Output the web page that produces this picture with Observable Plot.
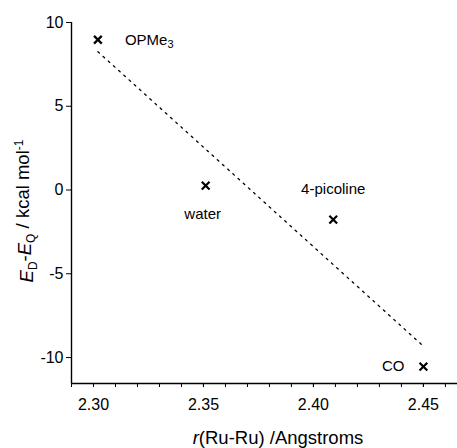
<!DOCTYPE html>
<html>
<head>
<meta charset="utf-8">
<script src="https://cdn.jsdelivr.net/npm/d3@7"></script>
<script src="https://cdn.jsdelivr.net/npm/@observablehq/plot@0.6"></script>
<style>
  html, body { margin: 0; padding: 0; background: #fff; }
  svg text { font-family: "Liberation Sans", Arial, sans-serif; }
</style>
</head>
<body>
<div id="chart"></div>
<script>
// Data
const ligands = ["OPMe3", "water", "4-picoline", "CO"];
const rRuRu = [2.302, 2.351, 2.409, 2.450];
const deltaE = [8.97, 0.26, -1.77, -10.54];

const xTicks = [2.30, 2.35, 2.40, 2.45];
const xMinorTicks = [2.29, 2.30, 2.31, 2.32, 2.33, 2.34, 2.35, 2.36, 2.37, 2.38, 2.39, 2.40, 2.41, 2.42, 2.43, 2.44, 2.45, 2.46];
const yTicks = [-10, -5, 0, 5, 10];
const xDomain = [2.29, 2.4655];
const yDomain = [-11.55, 10];

const data = ligands.map((name, i) => ({name, r: rRuRu[i], e: deltaE[i]}));
const pick = n => data.filter(d => d.name === n);

const textStyle = {x: "r", y: "e", text: "name", fontSize: 15, fill: "black"};

const chart = Plot.plot({
  width: 457,
  height: 448,
  marginLeft: 71,
  marginRight: 0,
  marginTop: 22,
  marginBottom: 65,
  style: {fontFamily: "Liberation Sans, Arial, sans-serif", fontSize: "16px", background: "white", color: "black"},
  x: {domain: xDomain, label: null},
  y: {domain: yDomain, label: null},
  marks: [
    Plot.ruleX([xDomain[0]], {stroke: "black", strokeWidth: 1.4}),
    Plot.ruleY([yDomain[0]], {stroke: "black", strokeWidth: 1.4}),
    Plot.axisY({ticks: yTicks, tickSize: 5, tickPadding: 3, label: null, fontSize: 16, tickFormat: d => String(d)}),
    Plot.axisX({ticks: xMinorTicks, tickSize: 4, label: null, tickFormat: () => ""}),
    Plot.axisX({ticks: xTicks, tickSize: 4, tickPadding: 11, label: null, fontSize: 16, tickFormat: d3.format(".2f")}),
    Plot.linearRegressionY(data, {x: "r", y: "e", ci: 0, stroke: "black", strokeWidth: 1.3, strokeDasharray: "2,5"}),
    Plot.dot(data, {x: "r", y: "e", symbol: "times", r: 3.6, stroke: "black", strokeWidth: 2.2}),
    Plot.text(pick("OPMe3"), {...textStyle, dx: 27, textAnchor: "start"}),
    Plot.text(pick("water"), {...textStyle, dx: -3, dy: 29}),
    Plot.text(pick("4-picoline"), {...textStyle, dy: -30}),
    Plot.text(pick("CO"), {...textStyle, dx: -19, textAnchor: "end"})
  ]
});

document.getElementById("chart").appendChild(chart);

const svg = d3.select(chart);

// Subscript in OPMe3
svg.selectAll("text").filter(function() { return this.textContent === "OPMe3"; })
  .each(function() {
    const t = d3.select(this);
    t.text(null);
    t.append("tspan").text("OPMe");
    t.append("tspan").attr("dy", "0.3em").attr("font-size", "11px").text("3");
  });

// Y axis label
const yl = svg.append("text")
  .attr("transform", "translate(33,211) rotate(-90)")
  .attr("text-anchor", "middle")
  .attr("font-size", 18.5)
  .attr("fill", "black");
yl.append("tspan").attr("font-style", "italic").text("E");
yl.append("tspan").attr("dy", "0.3em").attr("font-size", "12px").text("D");
yl.append("tspan").attr("dy", "-0.3em").text("-");
yl.append("tspan").attr("font-style", "italic").text("E");
yl.append("tspan").attr("dy", "0.3em").attr("font-size", "12px").text("Q");
yl.append("tspan").attr("dy", "-0.3em").text(" / kcal mol");
yl.append("tspan").attr("dy", "-0.5em").attr("font-size", "12px").text("-1");

// X axis label
const xl = svg.append("text")
  .attr("x", 278)
  .attr("y", 444)
  .attr("text-anchor", "middle")
  .attr("font-size", 18.5)
  .attr("fill", "black");
xl.append("tspan").attr("font-style", "italic").text("r");
xl.append("tspan").text("(Ru-Ru) /Angstroms");
</script>
</body>
</html>
